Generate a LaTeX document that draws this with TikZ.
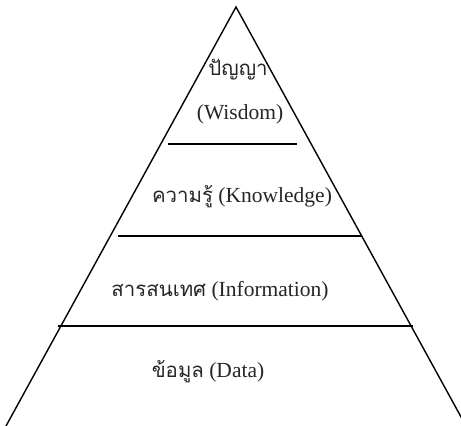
\documentclass[tikz,border=0pt]{standalone}
\usepackage{fontspec}
\setmainfont{Liberation Serif}
\newfontfamily\thaifont[Script=Thai,Scale=0.95]{Loma}
\begin{document}
\begin{tikzpicture}[x=1pt,y=-1pt,
  edge/.style={line width=1.4pt,black},
  lbl/.style={inner sep=0pt,font=\fontsize{21.5}{24}\selectfont,text=black!85}]
\useasboundingbox (0,0) rectangle (461,426);
\fill[white] (0,0) rectangle (461,426);
\coordinate (apex) at (236,7);
\coordinate (bl) at (6,426);
\coordinate (br) at (466,426);
\begin{scope}
\clip (0,0) rectangle (461,426);
\draw[edge] (bl) -- (apex) -- (br);
\end{scope}
\coordinate (l1a) at (168,144); \coordinate (l1b) at (297,144);
\coordinate (l2a) at (118,236); \coordinate (l2b) at (361,236);
\coordinate (l3a) at (58,326);  \coordinate (l3b) at (413,326);
\draw[edge] (l1a) -- (l1b);
\draw[edge] (l2a) -- (l2b);
\draw[edge] (l3a) -- (l3b);
\node[lbl] (wis1) at (238,70) {{\thaifont ปัญญา}};
\node[lbl] (wis2) at (240,114) {(Wisdom)};
\node[lbl] (kno) at (242,197) {{\thaifont ความรู้} (Knowledge)};
\node[lbl] (inf) at (220,291) {{\thaifont สารสนเทศ} (Information)};
\node[lbl] (dat) at (208,372) {{\thaifont ข้อมูล} (Data)};
\end{tikzpicture}
\end{document}
